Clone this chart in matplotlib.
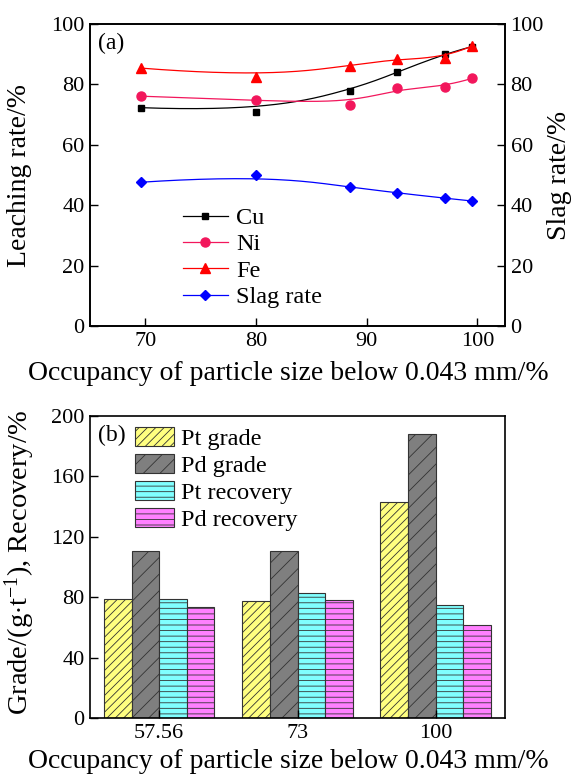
import numpy as np
import matplotlib
matplotlib.use('Agg')
import matplotlib.pyplot as plt
from matplotlib.lines import Line2D

plt.rcParams['font.family'] = ['Liberation Serif', 'DejaVu Serif']
plt.rcParams['mathtext.fontset'] = 'custom'
plt.rcParams['mathtext.rm'] = 'Liberation Serif'
plt.rcParams['mathtext.it'] = 'Liberation Serif:italic'
plt.rcParams['hatch.linewidth'] = 0.6
plt.rcParams['axes.linewidth'] = 1.2
plt.rcParams['xtick.direction'] = 'in'
plt.rcParams['ytick.direction'] = 'in'

# ---------------- data ----------------
occupancy = [69.6, 80.0, 88.5, 92.7, 97.1, 99.5]
cu = [72.3, 70.9, 77.8, 84.0, 90.2, 92.5]
ni = [76.1, 74.7, 73.3, 78.9, 79.2, 82.0]
fe = [85.4, 82.4, 86.2, 88.5, 88.8, 92.7]
slag = [47.6, 50.1, 46.0, 44.1, 42.3, 41.4]

groups = ['57.56', '73', '100']
pt_grade = [79.1, 77.3, 142.8]
pd_grade = [110.9, 110.9, 188.1]
pt_recovery = [78.5, 83.1, 74.7]
pd_recovery = [73.8, 78.2, 61.4]


def bspline(xs, ys, n=300):
    """Clamped cubic B-spline using the data points as control points."""
    P = np.column_stack([xs, ys]).astype(float)
    p = 3
    m = len(P)
    t = np.concatenate([[0.0] * p, np.linspace(0, 1, m - p + 1), [1.0] * p])
    u = np.linspace(0, 1, n)

    def N(i, k):
        if k == 0:
            r = ((t[i] <= u) & (u < t[i + 1])).astype(float)
            if t[i] < t[i + 1] and t[i + 1] == t[-1]:
                r[u == t[-1]] = 1.0
            return r
        out = np.zeros_like(u)
        d1 = t[i + k] - t[i]
        if d1 > 0:
            out += (u - t[i]) / d1 * N(i, k - 1)
        d2 = t[i + k + 1] - t[i + 1]
        if d2 > 0:
            out += (t[i + k + 1] - u) / d2 * N(i + 1, k - 1)
        return out

    C = np.zeros((n, 2))
    for i in range(m):
        C += N(i, p)[:, None] * P[i]
    return C[:, 0], C[:, 1]


W, H = 576, 776
fig = plt.figure(figsize=(W / 100, H / 100), dpi=100)

TICK = 16
LAB = 20
LEG = 17.5
AX_L, AX_W, AX_H = 90, 415, 302

# ---------------- panel (a) ----------------
ax1 = fig.add_axes([AX_L / W, 1 - 326 / H, AX_W / W, AX_H / H])
ax1r = ax1.twinx()

series = [
    (cu, 'Cu', 'black', 's', 5),
    (ni, 'Ni', '#F2175C', 'o', 6.5),
    (fe, 'Fe', '#FF0000', '^', 6.5),
]
handles = []
for ys, lab, col, mk, ms in series:
    bx, by = bspline(occupancy, ys)
    ax1.plot(bx, by, color=col, lw=0.9)
    ax1.plot(occupancy, ys, ls='none', marker=mk, color=col, ms=ms)
    handles.append(Line2D([], [], color=col, lw=0.9, marker=mk, ms=ms, label=lab))

bx, by = bspline(occupancy, slag)
ax1r.plot(bx, by, color='#0000FF', lw=0.9)
ax1r.plot(occupancy, slag, ls='none', marker='D', color='#0000FF', ms=5.5)
handles.append(Line2D([], [], color='#0000FF', lw=0.9, marker='D', ms=5.5, label='Slag rate'))

ax1.set_xlim(65, 102.5)
ax1.set_ylim(0, 100)
ax1r.set_ylim(0, 100)
ax1.set_xticks([70, 80, 90, 100])
ax1.set_yticks([0, 20, 40, 60, 80, 100])
ax1r.set_yticks([0, 20, 40, 60, 80, 100])
for a in (ax1, ax1r):
    a.tick_params(labelsize=TICK, length=6, width=1.0, pad=4)
ax1.set_xlabel('Occupancy of particle size below 0.043 mm/%', fontsize=LAB, va='center')
ax1.xaxis.set_label_coords((288 - AX_L) / AX_W, -(373 - 326) / AX_H)
ax1.set_ylabel('Leaching rate/%', fontsize=LAB, va='center')
ax1.yaxis.set_label_coords(-(AX_L - 20) / AX_W, 0.5)
ax1r.set_ylabel('Slag rate/%', fontsize=LAB, va='center')
ax1r.yaxis.set_label_coords((560 - AX_L) / AX_W, 0.5)
ax1.text(0.02, 0.935, '(a)', transform=ax1.transAxes, fontsize=17, va='center', ha='left')

ax1.legend(handles=handles, loc='upper left', bbox_to_anchor=((183 - AX_L) / AX_W, (326 - 207) / AX_H),
           frameon=False, fontsize=LEG, handlelength=1.85, handletextpad=0.35,
           labelspacing=0.18, borderpad=0, borderaxespad=0)

# ---------------- panel (b) ----------------
ax2 = fig.add_axes([AX_L / W, 1 - 718 / H, AX_W / W, AX_H / H])
x = np.arange(len(groups))
bw = 0.2
bar_specs = [
    (pt_grade, 'Pt grade', '#FFFF80', '////'),
    (pd_grade, 'Pd grade', '#7F7F7F', '//'),
    (pt_recovery, 'Pt recovery', '#80FFFF', '---'),
    (pd_recovery, 'Pd recovery', '#FF80FF', '---'),
]
for j, (vals, lab, col, hat) in enumerate(bar_specs):
    ax2.bar(x + (j - 1.5) * bw, vals, width=bw, color=col, edgecolor='#333333',
            hatch=hat, linewidth=0.8, label=lab)

ax2.set_xlim(-0.5, 2.5)
ax2.set_ylim(0, 200)
ax2.set_xticks(x)
ax2.set_xticklabels(groups)
ax2.set_yticks([0, 40, 80, 120, 160, 200])
ax2.tick_params(labelsize=TICK, length=6, width=1.0, pad=4)
ax2.set_xlabel('Occupancy of particle size below 0.043 mm/%', fontsize=LAB, va='center')
ax2.xaxis.set_label_coords((288 - AX_L) / AX_W, -(762 - 718) / AX_H)
ax2.set_ylabel(r'Grade/(g$\cdot$t$^{-1}$), Recovery/%', fontsize=20.5, va='center')
ax2.yaxis.set_label_coords(-(AX_L - 20) / AX_W, (718 - 563) / AX_H)
ax2.text(0.02, 0.935, '(b)', transform=ax2.transAxes, fontsize=17, va='center', ha='left')
ax2.legend(loc='upper left', bbox_to_anchor=((135 - AX_L) / AX_W, (718 - 427) / AX_H),
           frameon=False, fontsize=LEG, handlelength=1.6, handleheight=0.85,
           handletextpad=0.3, labelspacing=0.16, borderpad=0, borderaxespad=0)

fig.savefig('out.png', dpi=100)
